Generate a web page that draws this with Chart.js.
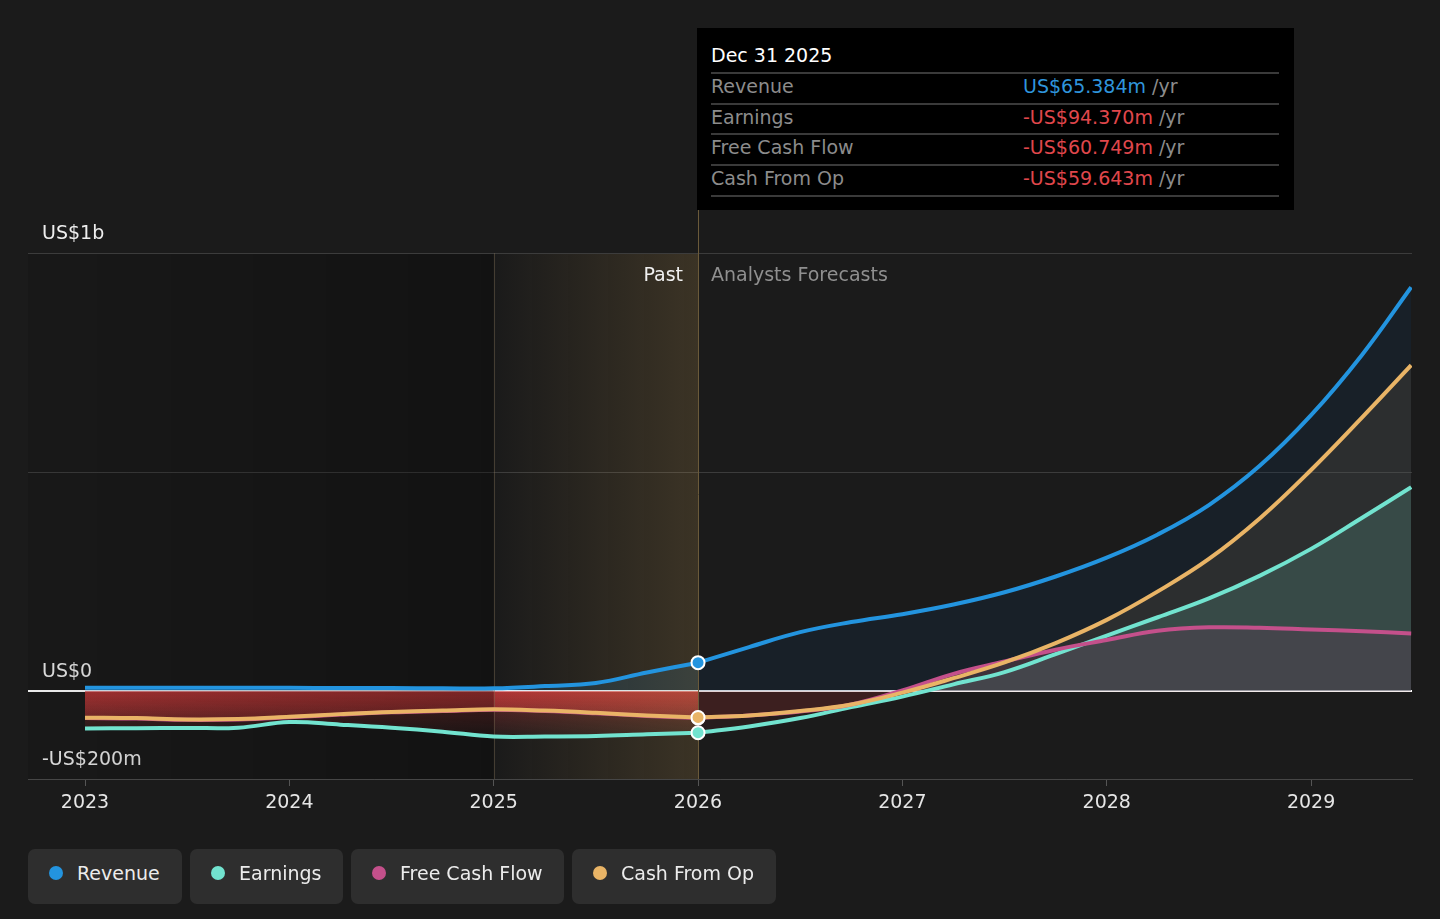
<!DOCTYPE html>
<html>
<head>
<meta charset="utf-8">
<script src="https://cdn.jsdelivr.net/npm/chart.js@4.4.1/dist/chart.umd.min.js"></script>
<style>
  body { margin: 0; background: #1b1b1b; font-family: "DejaVu Sans", sans-serif; }
  #wrap { position: relative; width: 1440px; height: 919px; overflow: hidden; }
  #chart { position: absolute; left: 0; top: 0; }
  #tip { position: absolute; left: 697px; top: 28px; width: 597px; height: 182px; background: #000; }
  #tip .title { position: absolute; left: 14px; top: 15px; color: #fff; font-size: 19px; line-height: 24px; }
  #tip .row { position: absolute; left: 14px; width: 568px; height: 29px; border-top: 2px solid #3a3a3a;
              color: #8c8c8c; font-size: 19px; line-height: 25px; }
  #tip .row.last { border-bottom: 2px solid #3a3a3a; }
  #tip .val { position: absolute; left: 312px; top: 0; }
  .pos { color: #2f95dc; }
  .neg { color: #e0474c; }
  .lab { position: absolute; font-size: 19px; line-height: 24px; top: 262px; }
  #past { right: 757px; color: #f0f0f0; }
  #fore { left: 711px; color: #8f8f8f; }
  .pill { position: absolute; top: 849px; height: 55px; background: #2e2e2e; border-radius: 7px;
          color: #ececec; font-size: 19px; line-height: 49px; box-sizing: border-box; padding-left: 49px; }
  .pill i { position: absolute; left: 21px; top: 17px; width: 14px; height: 14px; border-radius: 50%; }
</style>
</head>
<body>
<div id="wrap">
  <canvas id="chart" width="1440" height="919"></canvas>
  <div class="lab" id="past">Past</div>
  <div class="lab" id="fore">Analysts Forecasts</div>
  <div id="tip">
    <div class="title">Dec 31 2025</div>
    <div class="row" style="top:44px">Revenue<span class="val"><span class="pos">US$65.384m</span> /yr</span></div>
    <div class="row" style="top:74.5px">Earnings<span class="val"><span class="neg">-US$94.370m</span> /yr</span></div>
    <div class="row" style="top:105px">Free Cash Flow<span class="val"><span class="neg">-US$60.749m</span> /yr</span></div>
    <div class="row last" style="top:135.5px">Cash From Op<span class="val"><span class="neg">-US$59.643m</span> /yr</span></div>
  </div>
  <div class="pill" style="left:28px;width:154px"><i style="background:#2394df"></i>Revenue</div>
  <div class="pill" style="left:190px;width:153px"><i style="background:#72e3cf"></i>Earnings</div>
  <div class="pill" style="left:351px;width:213px"><i style="background:#c4508b"></i>Free Cash Flow</div>
  <div class="pill" style="left:572px;width:204px"><i style="background:#e9b466"></i>Cash From Op</div>
</div>
<script>
// values in US$ millions, x in fractional years
var pastYears = [2023, 2023.25, 2023.5, 2023.75, 2024, 2024.25, 2024.5, 2024.75, 2025, 2025.25, 2025.5, 2025.75, 2026];
var revenuePast = [8, 8, 8, 8, 8, 7.5, 7.5, 7, 7, 12, 19, 43, 65.384];
var earningsPast = [-85, -84, -83.5, -83, -70, -76, -83, -92, -103, -103, -102, -98, -94.37];
var fcfPast = [-61, -62, -65, -64, -59, -53, -48, -45, -42, -45, -50, -56, -60.749];
var cfoPast = [-60, -61, -64, -63, -58, -52, -47, -44, -41, -44, -49, -55, -59.643];

var forecastYears = [2026, 2026.25, 2026.5, 2026.75, 2027, 2027.25, 2027.5, 2027.75, 2028, 2028.25, 2028.5, 2028.75, 2029, 2029.25, 2029.49];
var revenueForecast = [65.384, 101, 135, 158, 176, 198, 226, 262, 305, 358, 425, 515, 630, 768, 922];
var earningsForecast = [-94.37, -80, -61, -36, -12, 16, 44, 85, 127, 169, 212, 264, 325, 396, 466];
var fcfForecast = [-60.749, -55, -46, -30, 2, 40, 68, 95, 117, 138, 146, 145, 141, 137, 132];
var cfoForecast = [-59.643, -55, -45, -30, -3, 30, 66, 110, 163, 228, 302, 395, 505, 625, 744];

var yearTicks = [2023, 2024, 2025, 2026, 2027, 2028, 2029];
var yTicks = [-200, 0, 500, 1000];
var yLabels = { '-200': '-US$200m', '0': 'US$0', '500': '', '1000': 'US$1b' };

var xMin = 2022.721, xMax = 2029.494;
var pastStart = 2025, nowYear = 2026;

var blue = '#2394df', teal = '#72e3cf', pink = '#c4508b', gold = '#e9b466';

function pts(xs, ys) {
    return xs.map(function (x, i) { return { x: x, y: ys[i] }; });
}

function redGrad(c) {
    var chart = c.chart;
    if (!chart.chartArea) return 'rgba(215,60,60,0.2)';
    var y = chart.scales.y;
    var g = chart.ctx.createLinearGradient(0, y.getPixelForValue(0), 0, y.getPixelForValue(-110));
    g.addColorStop(0, 'rgba(215,60,60,0.40)');
    g.addColorStop(1, 'rgba(215,60,60,0.04)');
    return g;
}

function lastDot(c) {
    return c.dataIndex === pastYears.length - 1 ? 6.5 : 0;
}

function pastSet(data, color, order, fillColor) {
    return {
        data: pts(pastYears, data), borderColor: color, backgroundColor: fillColor,
        fill: 'origin', order: order,
        pointRadius: lastDot, pointBackgroundColor: color, pointBorderColor: '#fff', pointBorderWidth: 2
    };
}

function foreSet(data, color, order, above, below) {
    return {
        data: pts(forecastYears, data), borderColor: color, order: order,
        fill: { target: 'origin', above: above, below: below }, pointRadius: 0
    };
}

var redBelow = 'rgba(200,60,60,0.07)';

var backdrop = {
    id: 'backdrop',
    beforeDatasetsDraw: function (chart) {
        var c = chart.ctx, a = chart.chartArea, x = chart.scales.x;
        var x1 = x.getPixelForValue(pastStart), x2 = x.getPixelForValue(nowYear);
        c.save();
        var g = c.createLinearGradient(a.left, 0, x1, 0);
        g.addColorStop(0, 'rgba(0,0,0,0.08)');
        g.addColorStop(1, 'rgba(0,0,0,0.3)');
        c.fillStyle = g;
        c.fillRect(a.left, a.top + 1, x1 - a.left, a.bottom - a.top - 1);
        var b = c.createLinearGradient(x1, 0, x2, 0);
        b.addColorStop(0, 'rgba(190,150,80,0.0)');
        b.addColorStop(1, 'rgba(190,150,80,0.2)');
        c.fillStyle = b;
        c.fillRect(x1, a.top + 1, x2 - x1, a.bottom - a.top - 1);
        c.strokeStyle = 'rgba(120,105,80,0.45)';
        c.lineWidth = 1;
        c.beginPath();
        c.moveTo(Math.round(x1) + 0.5, a.top);
        c.lineTo(Math.round(x1) + 0.5, a.bottom);
        c.stroke();
        c.strokeStyle = '#6b5a3a';
        c.beginPath();
        c.moveTo(Math.round(x2) + 0.5, 210);
        c.lineTo(Math.round(x2) + 0.5, a.bottom);
        c.stroke();
        c.restore();
    }
};

new Chart(document.getElementById('chart'), {
    type: 'line',
    data: {
        datasets: [
            pastSet(revenuePast, blue, 1, 'rgba(35,148,223,0.15)'),
            pastSet(cfoPast, gold, 2, redGrad),
            pastSet(fcfPast, pink, 3, redGrad),
            pastSet(earningsPast, teal, 4, redGrad),
            foreSet(revenueForecast, blue, 1, 'rgba(15,50,85,0.22)', redBelow),
            foreSet(cfoForecast, gold, 2, 'rgba(232,178,101,0.13)', redBelow),
            foreSet(fcfForecast, pink, 3, 'rgba(105,45,80,0.32)', redBelow),
            foreSet(earningsForecast, teal, 4, 'rgba(110,231,209,0.2)', redBelow)
        ]
    },
    options: {
        responsive: false,
        animation: false,
        events: [],
        layout: { padding: { left: 28, right: 28, top: 253, bottom: 0 } },
        plugins: {
            legend: { display: false },
            tooltip: { enabled: false },
            filler: { drawTime: 'beforeDatasetsDraw' }
        },
        elements: { line: { borderWidth: 4, tension: 0.4 } },
        scales: {
            x: {
                type: 'linear', min: xMin, max: xMax,
                afterBuildTicks: function (s) { s.ticks = yearTicks.map(function (v) { return { value: v }; }); },
                afterFit: function (s) { s.height = 140; },
                grid: { drawOnChartArea: false, drawTicks: true, tickLength: 7, color: '#555' },
                border: { display: true, color: '#464646' },
                ticks: {
                    color: '#e6e6e6', font: { family: 'DejaVu Sans', size: 19 }, padding: 6,
                    maxRotation: 0, autoSkip: false,
                    callback: function (v) { return String(v); }
                }
            },
            y: {
                min: -200, max: 1000,
                afterBuildTicks: function (s) { s.ticks = yTicks.map(function (v) { return { value: v }; }); },
                afterFit: function (s) { s.width = 0; },
                grid: {
                    drawTicks: false,
                    color: function (c) { return c.tick && c.tick.value === 0 ? '#ffffff' : '#3c3c3c'; },
                    lineWidth: function (c) { return c.tick && c.tick.value === 0 ? 2 : 1; }
                },
                border: { display: false },
                ticks: {
                    mirror: true, padding: 14, labelOffset: -19,
                    color: '#eeeeee', font: { family: 'DejaVu Sans', size: 19 },
                    callback: function (v) { return yLabels[String(v)]; }
                }
            }
        }
    },
    plugins: [backdrop]
});
</script>
</body>
</html>
